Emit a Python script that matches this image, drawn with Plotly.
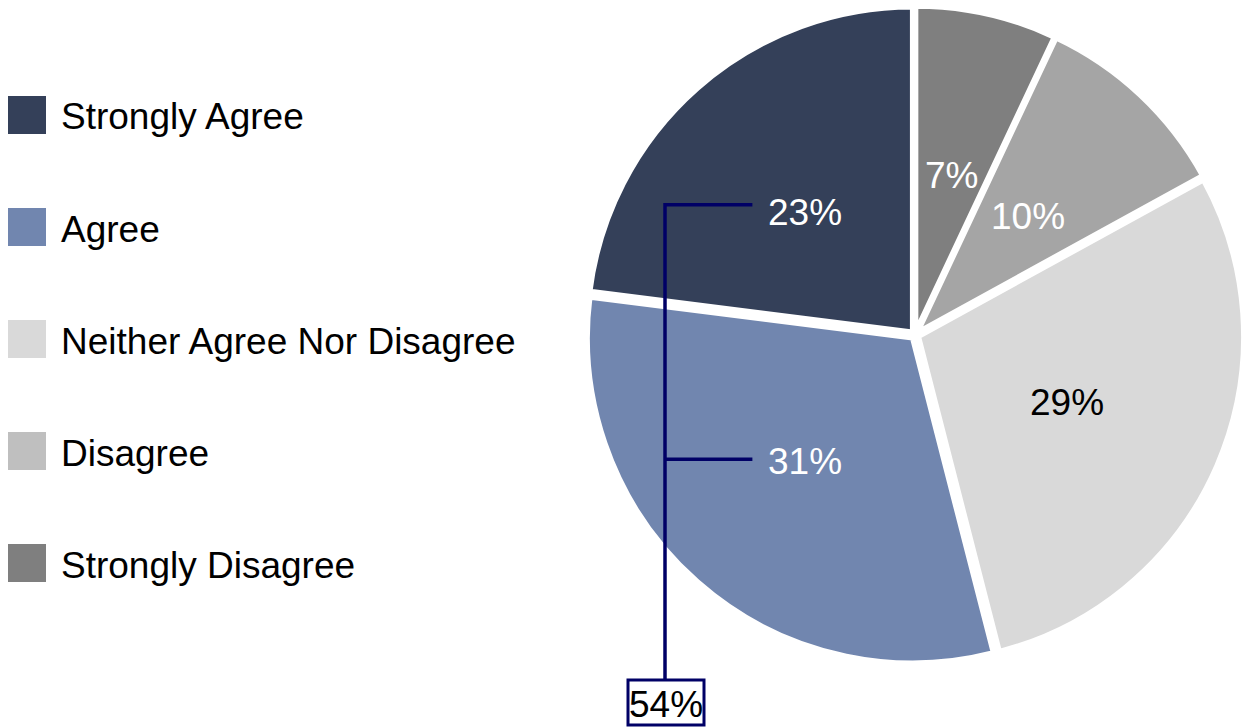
import math
import plotly.graph_objects as go

# Survey responses, in drawing order (clockwise from 12 o'clock)
categories = ["Strongly Disagree", "Disagree", "Neither Agree Nor Disagree", "Agree", "Strongly Agree"]
values = [7, 10, 29, 31, 23]
slice_colors = ["#7F7F7F", "#A5A5A5", "#D9D9D9", "#7186AF", "#344059"]
label_colors = ["white", "white", "black", "white", "white"]

# Legend listing (top to bottom) and its swatch colours
legend_items = ["Strongly Agree", "Agree", "Neither Agree Nor Disagree", "Disagree", "Strongly Disagree"]
legend_colors = ["#344059", "#7186AF", "#D9D9D9", "#BFBFBF", "#7F7F7F"]

# Slices bracketed together with their combined share
combined = ["Strongly Agree", "Agree"]

W, H = 1246, 727
CX, CY, R = 915, 335, 325
PULL = 0.012
FONT = "Liberation Sans, Arial, sans-serif"
FS = 37
NAVY = "#000066"


def px(x):
    return x / W


def py(y):
    return 1 - y / H


half = R * (1 + PULL)
fig = go.Figure(go.Pie(
    labels=categories,
    values=values,
    sort=False,
    direction="clockwise",
    rotation=0,
    pull=[PULL] * len(values),
    marker=dict(colors=slice_colors, line=dict(color="white", width=5)),
    textinfo="none",
    hoverinfo="skip",
    showlegend=False,
    domain=dict(x=[px(CX - half), px(CX + half)], y=[py(CY + half), py(CY - half)]),
))

annotations = []
shapes = []

# Percentage labels at each slice's mid-angle
total = sum(values)
label_pos = {}
cum = 0
for cat, v, col in zip(categories, values, label_colors):
    mid = (cum + v / 2) / total * 2 * math.pi
    cum += v
    lx = CX + 0.51 * R * math.sin(mid)
    ly = CY - 0.51 * R * math.cos(mid)
    label_pos[cat] = (lx, ly)
    annotations.append(dict(
        x=px(lx), y=py(ly + 2), xref="paper", yref="paper",
        text=f"{round(v / total * 100)}%", showarrow=False,
        font=dict(family=FONT, size=FS, color=col),
        xanchor="center", yanchor="middle",
    ))

# Bracket joining the combined slices to their total
bx = 665
box_top, box_bottom = 680, 725
ys = []
for cat in combined:
    lx, ly = label_pos[cat]
    yline = ly - 6 if ly < CY else ly
    ys.append(yline)
    shapes.append(dict(type="line", xref="paper", yref="paper",
                       x0=px(bx), x1=px(lx - 53), y0=py(yline), y1=py(yline),
                       line=dict(color=NAVY, width=3.5)))
shapes.append(dict(type="line", xref="paper", yref="paper",
                   x0=px(bx), x1=px(bx), y0=py(min(ys) - 1.7), y1=py(box_top),
                   line=dict(color=NAVY, width=3.5)))
combined_total = sum(values[categories.index(c)] for c in combined)
shapes.append(dict(type="rect", xref="paper", yref="paper",
                   x0=px(bx - 37), x1=px(bx + 39), y0=py(box_bottom), y1=py(box_top),
                   line=dict(color=NAVY, width=3), fillcolor="white"))
annotations.append(dict(
    x=px(bx + 1), y=py((box_top + box_bottom) / 2 + 2), xref="paper", yref="paper",
    text=f"{combined_total}%", showarrow=False,
    font=dict(family=FONT, size=FS, color="black"),
    xanchor="center", yanchor="middle",
))

# Legend drawn as swatches with labels
for i, (name, col) in enumerate(zip(legend_items, legend_colors)):
    yc = 115 + i * 112
    shapes.append(dict(type="rect", xref="paper", yref="paper",
                       x0=px(8), x1=px(46), y0=py(yc + 19), y1=py(yc - 19),
                       line=dict(width=0), fillcolor=col))
    annotations.append(dict(
        x=px(59), y=py(yc + 2), xref="paper", yref="paper",
        text=name, showarrow=False,
        font=dict(family=FONT, size=FS, color="black"),
        xanchor="left", yanchor="middle",
    ))

fig.update_layout(
    width=W, height=H,
    margin=dict(l=0, r=0, t=0, b=0),
    paper_bgcolor="white",
    plot_bgcolor="white",
    shapes=shapes,
    annotations=annotations,
)

fig.write_html("out.html")
